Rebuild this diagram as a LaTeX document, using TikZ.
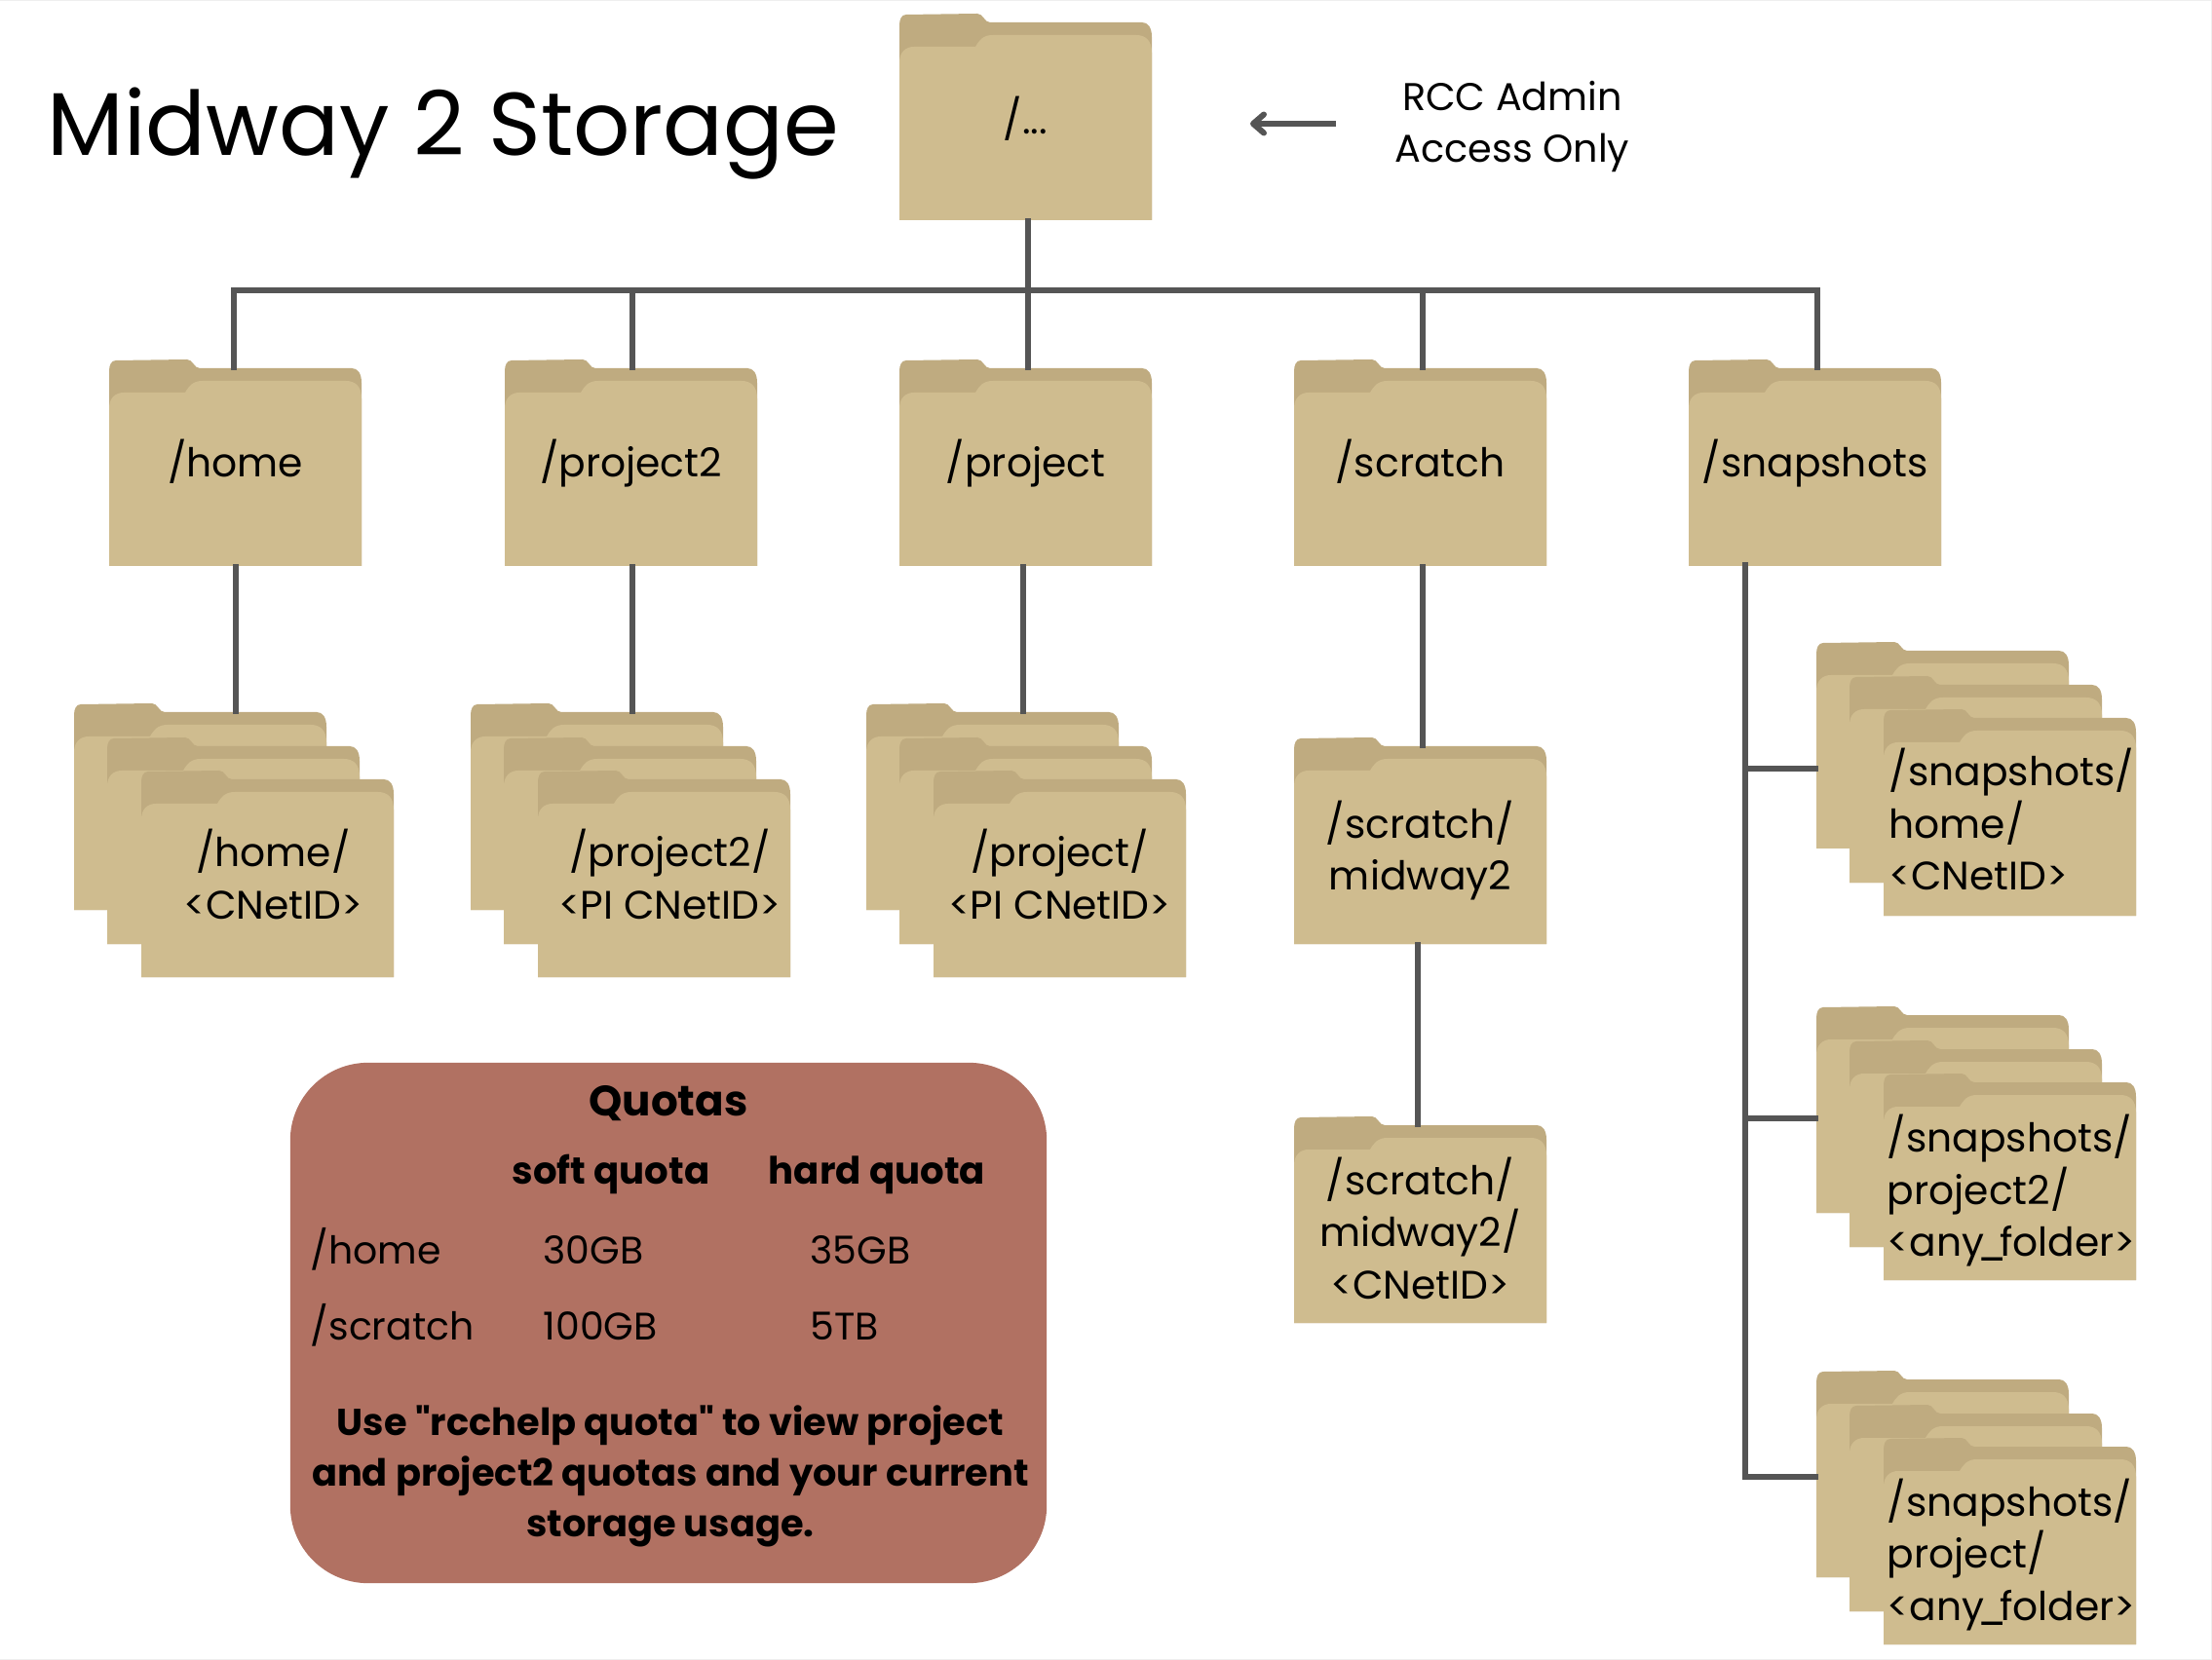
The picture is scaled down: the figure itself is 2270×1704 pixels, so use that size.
\documentclass[tikz,border=0pt]{standalone}
\usepackage{fontspec}
\setmainfont{Poppins}[Ligatures=TeXOff]
\usepackage{xcolor}
\usetikzlibrary{positioning,arrows.meta}
\definecolor{folderfront}{HTML}{CFBC8F}
\definecolor{folderback}{HTML}{BFAB80}
\definecolor{quotafill}{HTML}{B17162}
\definecolor{linkgray}{HTML}{555555}
\definecolor{edgegray}{HTML}{EFEFEF}

% name, x, y, label; optional keys go to the label node
\newcommand{\folder}[5][]{%
  \begin{scope}[shift={(#3,#4)}]
    \fill[folderback] (0,212) -- (0,12) .. controls (0,6) and (2,1) .. (7,1) -- (80,0)
      .. controls (86,0) and (87,9) .. (93,9) -- (249,9) .. controls (255,9) and (259,14) .. (259,24) -- (259,212) -- cycle;
    \fill[folderfront] (0,212) -- (0,50) .. controls (0,40) and (6,34) .. (15,34) -- (78,34)
      .. controls (82,27) and (86,22) .. (96,22) -- (243,22) .. controls (253,22) and (259,28) .. (259,40) -- (259,212) -- cycle;
    \node[folderbody] (#2) at (129.5,110.5) {};
    \node[foldertext,#1] (#2label) at (#2) {#5};
  \end{scope}}
% three folders, the label goes on the front one
\newcommand{\folderstack}[5][]{%
  \begin{scope}[shift={(#3,#4)}]
    \folder{#2a}{0}{0}{}
    \folder{#2b}{34}{35}{}
    \folder[#1]{#2c}{69}{69}{#5}
  \end{scope}}
% narrow underscore
\newcommand{\narrowbar}{\kern-2pt\_\kern-2pt}

\begin{document}
\begin{tikzpicture}[
      x=0.01cm, y=-0.01cm,
      folderbody/.style={minimum width=2.59cm, minimum height=2.03cm, inner sep=0pt},
      foldertext/.style={inner sep=0pt, yshift=1.6pt, align=center, font=\fontsize{11.6}{15.25}\selectfont},
      snaptext/.style={align=left, xshift=0.5pt},
      link/.style={draw=linkgray, line width=1.45pt, line cap=rect},
      quotahead/.style={anchor=base, inner sep=0pt, font=\fontsize{11}{14.8}\selectfont\bfseries},
      quotacell/.style={anchor=base west, inner sep=0pt, font=\fontsize{11.2}{14.8}\selectfont}
  ]
    \useasboundingbox (0,0) rectangle (2270,1704);
    \draw[edgegray, line width=0.4pt] (0,0.7) -- (2269.3,0.7) -- (2269.3,1703.3) -- (0,1703.3);

    \node[anchor=west, inner sep=0pt, font=\fontsize{26}{30}\selectfont] (title) at (48,137) {Midway 2 Storage};

    \folder[yshift=-0.8pt]{root}{923}{14}{/...}
    \folder{home}{112}{369}{/home}
    \folder[yshift=-0.4pt]{projecttwo}{518}{369}{/project2}
    \folder[yshift=-0.4pt]{project}{923}{369}{/project}
    \folder{scratch}{1328}{369}{/scratch}
    \folder[yshift=-0.4pt]{snapshots}{1733}{369}{/snapshots}

    \folderstack[xshift=1.7pt,yshift=-0.4pt]{homedir}{76}{722}{/home/\\<CNetID>}
    \folderstack[xshift=1.7pt,yshift=-0.4pt]{projecttwodir}{483}{722}{/project2/\\<PI CNetID>}
    \folderstack[yshift=-0.4pt]{projectdir}{889}{722}{/project/\\<PI CNetID>}

    \folder[yshift=-3.2pt]{midway}{1328}{757}{/scratch/\\midway2}
    \folder[yshift=-2.8pt]{midwaydir}{1328}{1146}{/scratch/\\midway2/\\<CNetID>}

    \folderstack[snaptext,yshift=-2.4pt]{snaphome}{1864}{659}{/snapshots/\\home/\\<CNetID>}
    \folderstack[snaptext,yshift=-4.4pt]{snaptwo}{1864}{1033}{/snapshots/\\project2/\\<any\narrowbar folder>}
    \folderstack[snaptext,yshift=-4.3pt]{snapone}{1864}{1407}{/snapshots/\\project/\\<any\narrowbar folder>}

    \node[align=center, font=\fontsize{11.3}{15.25}\selectfont] (admin) at (1552,130) {RCC Admin\\Access Only};
    \coordinate (arrowstart) at (1371,127);
    \coordinate (arrowend) at (1283,127);
    \draw[link, line width=1.7pt, line cap=butt, -{Straight Barb[length=1.1mm,width=1.9mm,round]}] (arrowstart) -- (arrowend);

    % top bus
    \coordinate (busleft) at (240,298);
    \coordinate (busright) at (1865,298);
    \coordinate (busroot) at (1055,298);
    \coordinate (bustwo) at (649,298);
    \coordinate (busscratch) at (1460,298);
    \draw[link] (busleft |- home.north) -- (busleft) -- (busright) -- (busright |- snapshots.north);
    \draw[link] (busroot |- root.south) -- (busroot |- project.north);
    \draw[link] (bustwo) -- (bustwo |- projecttwo.north);
    \draw[link] (busscratch) -- (busscratch |- scratch.north);

    % down to the sub folders
    \coordinate (downhome) at (242,580);
    \coordinate (downproject) at (1050,580);
    \coordinate (downmidway) at (1455,968);
    \draw[link] (home.south -| downhome) -- (downhome |- homedira.north);
    \draw[link] (bustwo |- projecttwo.south) -- (bustwo |- projecttwodira.north);
    \draw[link] (project.south -| downproject) -- (downproject |- projectdira.north);
    \draw[link] (busscratch |- scratch.south) -- (busscratch |- midway.north);
    \draw[link] (midway.south -| downmidway) -- (downmidway |- midwaydir.north);

    % snapshots trunk
    \coordinate (trunk) at (1791,580);
    \coordinate (tapa) at (1791,789);
    \coordinate (tapb) at (1791,1148);
    \coordinate (tapc) at (1791,1516);
    \draw[link] (trunk) -- (tapc) -- (tapc -| snaponea.west);
    \draw[link] (tapa) -- (tapa -| snaphomea.west);
    \draw[link] (tapb) -- (tapb -| snaptwoa.west);

    % quota box
    \node[fill=quotafill, rounded corners=0.8cm, minimum width=7.76cm, minimum height=5.34cm, inner sep=0pt] (quota) at (686,1358) {};
    \node[quotahead, font=\fontsize{12.4}{16}\selectfont\bfseries] (quotatitle) at (686,1145) {Quotas};
    \node[quotahead] (softhead) at (627,1215) {soft quota};
    \node[quotahead] (hardhead) at (900,1215) {hard quota};
    \node[quotacell] (homerow) at (318,1297) {/home};
    \node[quotacell] (homesoft) at (557,1297) {30GB};
    \node[quotacell] (homehard) at (831,1297) {35GB};
    \node[quotacell] (scratchrow) at (318,1375) {/scratch};
    \node[quotacell] (scratchsoft) at (557,1375) {100GB};
    \node[quotacell] (scratchhard) at (831,1375) {5TB};
    \node[align=center, font=\fontsize{10.9}{14.8}\selectfont\bfseries] (quotanote) at (688,1515) {Use "rcchelp quota" to view project\\and project2 quotas and your current\\storage usage.};
  \end{tikzpicture}
\end{document}
